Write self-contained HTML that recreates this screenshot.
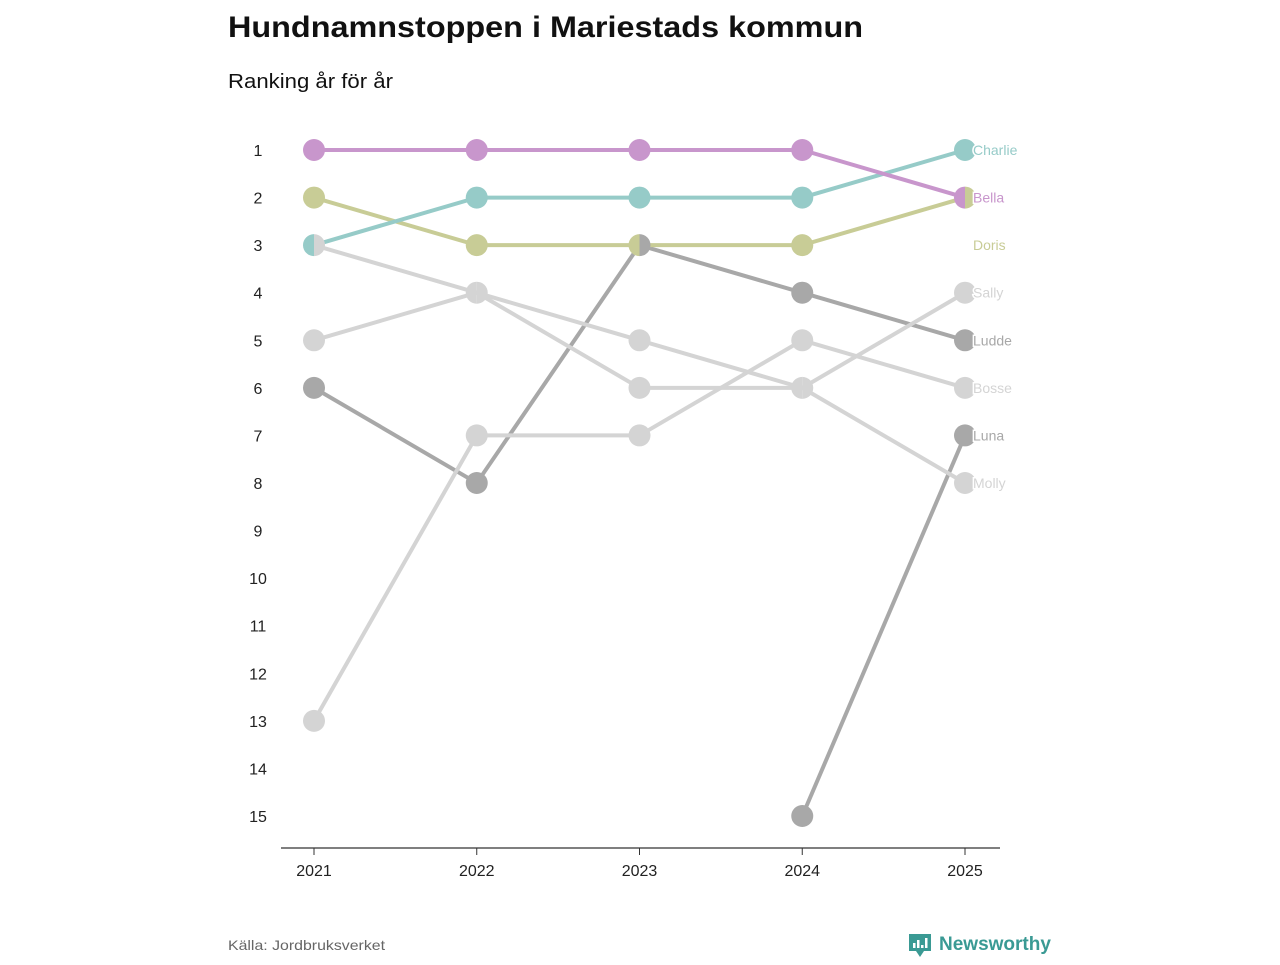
<!DOCTYPE html>
<html><head><meta charset="utf-8"><style>
body{margin:0;background:#fff;font-family:"Liberation Sans",sans-serif}
svg text{font-family:"Liberation Sans",sans-serif}
</style></head><body>
<svg id="chart" width="1280" height="960">
<text x="228" y="37" font-size="30" font-weight="bold" fill="#111" textLength="635" lengthAdjust="spacingAndGlyphs">Hundnamnstoppen i Mariestads kommun</text>
<text x="228" y="88" font-size="20" fill="#111" textLength="165" lengthAdjust="spacingAndGlyphs">Ranking år för år</text>
<g id="yaxis"></g>
<g id="xaxis"></g>
<g id="lines"></g>
<g id="dots"></g>
<g id="labels"></g>
<text x="228" y="950" font-size="14" fill="#666" textLength="157" lengthAdjust="spacingAndGlyphs">Källa: Jordbruksverket</text>
<g>
<path d="M909 934 h22 v17 h-7 l-4 6 l-4 -6 h-7 z" fill="#3a9a94"/>
<rect x="913" y="943" width="2.5" height="5" fill="#fff"/><rect x="917" y="940" width="2.5" height="8" fill="#fff"/><rect x="921" y="945" width="2.5" height="3" fill="#fff"/><rect x="925" y="938" width="2.5" height="10" fill="#fff"/>
<text x="939" y="950" font-size="19" font-weight="bold" fill="#3a9a94">Newsworthy</text>
</g>
</svg>
<script>
const years=[2021,2022,2023,2024,2025];
const names=["Bella","Charlie","Doris","Ludde","Luna","Sally","Bosse","Molly"];
const colors=["#c896cc","#96cbc8","#c8cc96","#a8a8a8","#a8a8a8","#d4d4d4","#d4d4d4","#d4d4d4"];
const rankBella=[1,1,1,1,2];
const rankCharlie=[3,2,2,2,1];
const rankDoris=[2,3,3,3,2];
const rankLudde=[6,8,3,4,5];
const rankLuna=[null,null,null,15,7];
const rankSally=[5,4,6,6,4];
const rankBosse=[13,7,7,5,6];
const rankMolly=[3,4,5,6,8];
const ranks=[rankBella,rankCharlie,rankDoris,rankLudde,rankLuna,rankSally,rankBosse,rankMolly];
const labelRank=[2,1,3,5,7,4,6,8];
const yTicks=[1,2,3,4,5,6,7,8,9,10,11,12,13,14,15];
const NS="http://www.w3.org/2000/svg";
const x=i=>314+i*162.75;
const y=r=>150+(r-1)*(666/14);
function mk(tag,attrs,parent){const e=document.createElementNS(NS,tag);for(const k in attrs)e.setAttribute(k,attrs[k]);document.getElementById(parent).appendChild(e);return e;}
yTicks.forEach(t=>{const e=mk('text',{x:258,y:y(t)+6,'font-size':16,fill:'#222','text-anchor':'middle'},'yaxis');e.textContent=t;

});
const ax=mk('line',{x1:281,x2:1000,y1:848,y2:848,stroke:'#333','stroke-width':1.2},'xaxis');


years.forEach((yr,i)=>{mk('line',{x1:x(i),x2:x(i),y1:848,y2:855,stroke:'#333'},'xaxis');
const e=mk('text',{x:x(i),y:876,'font-size':16,fill:'#222','text-anchor':'middle'},'xaxis');e.textContent=yr;

});
const order=[3,4,5,6,7,2,1,0];
order.forEach(s=>{const r=ranks[s];let d='';r.forEach((v,i)=>{if(v==null)return;d+=(d?'L':'M')+x(i)+' '+y(v);});
const p=mk('path',{d:d,fill:'none',stroke:colors[s],'stroke-width':4},'lines');

});
years.forEach((yr,i)=>{const groups={};ranks.forEach((r,s)=>{if(r[i]!=null)(groups[r[i]]=groups[r[i]]||[]).push(s);});
for(const rk in groups){const g=groups[rk];const cx=x(i),cy=y(+rk),R=11;
if(g.length===1){const c=mk('circle',{cx:cx,cy:cy,r:R,fill:colors[g[0]]},'dots');

}
else{const a=mk('path',{d:`M${cx} ${cy-R}A${R} ${R} 0 0 0 ${cx} ${cy+R}Z`,fill:colors[g[0]]},'dots');


const b=mk('path',{d:`M${cx} ${cy-R}A${R} ${R} 0 0 1 ${cx} ${cy+R}Z`,fill:colors[g[1]]},'dots');

}}});
names.forEach((n,s)=>{const e=mk('text',{x:973,y:y(labelRank[s])+5,'font-size':14,fill:colors[s],stroke:'#fff','stroke-width':3,'paint-order':'stroke'},'labels');e.textContent=n;

});
</script>
</body></html>
